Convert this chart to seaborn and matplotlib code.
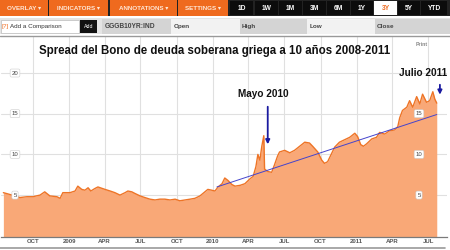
import matplotlib
matplotlib.use("Agg")
import matplotlib.pyplot as plt
import matplotlib.dates as mdates
import matplotlib.transforms as mtrans
from matplotlib.patches import Rectangle
import seaborn as sns
import pandas as pd

# ---------------- data ----------------
dates = ["2008-07-18", "2008-08-09", "2008-08-29", "2008-09-16", "2008-10-01", "2008-10-19",
         "2008-10-31", "2008-11-13", "2008-12-01", "2008-12-09", "2008-12-16", "2009-01-03",
         "2009-01-16", "2009-01-23", "2009-02-02", "2009-02-10", "2009-02-18", "2009-02-25",
         "2009-03-07", "2009-03-15", "2009-04-02", "2009-04-15", "2009-04-27", "2009-05-10",
         "2009-05-23", "2009-05-30", "2009-06-09", "2009-06-17", "2009-06-30", "2009-07-12",
         "2009-07-25", "2009-08-07", "2009-08-19", "2009-09-01", "2009-09-14", "2009-09-27",
         "2009-10-09", "2009-10-22", "2009-11-04", "2009-11-16", "2009-11-29", "2009-12-09",
         "2009-12-19", "2009-12-29", "2010-01-06", "2010-01-14", "2010-01-24", "2010-01-31",
         "2010-02-08", "2010-02-18", "2010-02-26", "2010-03-11", "2010-03-23", "2010-04-05",
         "2010-04-13", "2010-04-20", "2010-04-25", "2010-04-30", "2010-05-05", "2010-05-10",
         "2010-05-12", "2010-05-20", "2010-05-30", "2010-06-06", "2010-06-14", "2010-06-19",
         "2010-07-02", "2010-07-15", "2010-07-27", "2010-08-09", "2010-08-22", "2010-09-03",
         "2010-09-11", "2010-09-24", "2010-10-04", "2010-10-11", "2010-10-19", "2010-10-27",
         "2010-11-06", "2010-11-18", "2010-12-01", "2010-12-14", "2010-12-27", "2011-01-03",
         "2011-01-11", "2011-01-18", "2011-01-26", "2011-02-08", "2011-02-20", "2011-02-28",
         "2011-03-13", "2011-03-25", "2011-04-07", "2011-04-15", "2011-04-20", "2011-04-27",
         "2011-05-08", "2011-05-15", "2011-05-23", "2011-06-02", "2011-06-10", "2011-06-17",
         "2011-06-27", "2011-07-05", "2011-07-13", "2011-07-18", "2011-07-23"]
values = [5.3, 5.0, 4.7, 4.8, 4.8, 5.0,
          5.4, 4.9, 4.8, 4.6, 5.3, 5.3,
          5.5, 6.1, 5.7, 5.6, 5.9, 5.5,
          5.8, 6.0, 5.7, 5.5, 5.3, 5.0,
          5.3, 5.5, 5.4, 5.2, 4.9, 4.7,
          4.5, 4.4, 4.5, 4.5, 4.4, 4.5,
          4.3, 4.4, 4.5, 4.6, 4.9, 5.3,
          5.7, 5.6, 5.5, 6.0, 6.4, 7.1,
          6.8, 6.3, 6.1, 6.2, 6.4, 7.0,
          7.3, 8.5, 10.0, 9.3, 11.0, 12.3,
          8.2, 7.9, 7.8, 8.7, 9.8, 10.3,
          10.5, 10.2, 10.5, 11.0, 11.5, 11.4,
          11.0, 10.3, 9.3, 8.9, 9.1, 9.9,
          10.9, 11.5, 11.8, 12.1, 12.6, 12.2,
          11.2, 11.0, 11.3, 11.9, 12.1, 12.7,
          12.5, 12.9, 13.0, 13.4, 14.5, 15.4,
          15.8, 16.6, 15.8, 17.1, 16.2, 17.4,
          16.4, 16.6, 17.7, 16.8, 16.3]

trend_dates = ["2010-01-11", "2011-07-23"]
trend_values = [6.0, 14.9]

tick_dates = ["2008-10-01", "2009-01-01", "2009-04-01", "2009-07-01", "2009-10-01", "2010-01-01",
              "2010-04-01", "2010-07-01", "2010-10-01", "2011-01-01", "2011-04-01", "2011-07-01"]
tick_labels = ["OCT", "2009", "APR", "JUL", "OCT", "2010", "APR", "JUL", "OCT", "2011", "APR", "JUL"]
ytick_left = [5, 10, 15, 20]
ytick_right = [5, 10, 15]

title = "Spread del Bono de deuda soberana griega a 10 años 2008-2011"

df = pd.DataFrame({"date": pd.to_datetime(dates), "value": values})
tr = pd.DataFrame({"date": pd.to_datetime(trend_dates), "value": trend_values})

# ---------------- style ----------------
sns.set_theme(style="white")
plt.rcParams["font.family"] = ["Liberation Sans", "DejaVu Sans"]

W, H = 450, 250
fig = plt.figure(figsize=(4.5, 2.5), dpi=100)
fig.patch.set_facecolor("white")

def fx(px):
    return px / W

def fy(py):
    return 1 - py / H

ax = fig.add_axes([fx(1), fy(237), fx(446), (237 - 36) / H])
ax.set_facecolor("white")

FILL = "#f9a877"
LINE = "#ee7426"

ax.fill_between(df["date"], df["value"], -1, color=FILL, lw=0, zorder=2)
sns.lineplot(data=df, x="date", y="value", ax=ax, color=LINE, lw=1.0, zorder=3)
sns.lineplot(data=tr, x="date", y="value", ax=ax, color="#4444cc", lw=0.7, zorder=4)

ax.set_xlim(pd.Timestamp("2008-07-12"), pd.Timestamp("2011-08-18"))
ax.set_ylim(-0.15, 24.55)
ax.set_xticks(pd.to_datetime(tick_dates))
ax.set_xticklabels(tick_labels)
ax.set_yticks(ytick_left)
ax.tick_params(axis="y", labelleft=False, length=0)
ax.tick_params(axis="x", length=0, pad=1.5, labelsize=4.3, labelcolor="#555555")
for t in ax.get_xticklabels():
    t.set_fontweight("bold")
ax.set_xlabel("")
ax.set_ylabel("")
ax.grid(True, color="#e0e0e0", lw=0.8, zorder=0)
ax.set_axisbelow(True)
for s in ["top", "right", "left"]:
    ax.spines[s].set_visible(False)
ax.spines["bottom"].set_color("#7a7a7a")
ax.spines["bottom"].set_linewidth(0.9)
ax.spines["bottom"].set_zorder(6)

box = dict(boxstyle="round,pad=0.25", fc="white", ec="#cccccc", lw=0.4)
bl = mtrans.blended_transform_factory(ax.transAxes, ax.transData)
for v in ytick_left:
    ax.text((15 - 1) / 446, v, str(v), transform=bl, ha="center", va="center",
            fontsize=4.3, color="#444444", bbox=box, zorder=7)
for v in ytick_right:
    ax.text((419 - 1) / 446, v, str(v), transform=bl, ha="center", va="center",
            fontsize=4.3, color="#444444", bbox=box, zorder=7)

# annotations
ax.annotate("", xy=(pd.Timestamp("2010-05-20"), 10.9), xytext=(pd.Timestamp("2010-05-20"), 16.2),
            arrowprops=dict(arrowstyle="-|>", color="#1a1aa0", lw=1.3, mutation_scale=6), zorder=8)
ax.text(pd.Timestamp("2010-05-10"), 17.4, "Mayo 2010", ha="center", va="center",
        fontsize=7.2, fontweight="bold", color="#111111", zorder=8)
ax.annotate("", xy=(pd.Timestamp("2011-07-31"), 17.0), xytext=(pd.Timestamp("2011-07-31"), 18.9),
            arrowprops=dict(arrowstyle="-|>", color="#1a1aa0", lw=1.3, mutation_scale=6), zorder=8)
ax.text(pd.Timestamp("2011-06-17"), 20.0, "Julio 2011", ha="center", va="center",
        fontsize=7.2, fontweight="bold", color="#111111", zorder=8)

fig.text(fx(215), fy(51), title, ha="center", va="center", fontsize=8.3,
         fontweight="bold", color="#111111")
fig.text(fx(422), fy(45), "Print", ha="center", va="center", fontsize=3.8,
         fontweight="bold", color="#888888")

# ---------------- toolbar ----------------
tb = fig.add_axes([0, 0, 1, 1], zorder=10)
tb.set_xlim(0, W)
tb.set_ylim(H, 0)
tb.axis("off")
tb.patch.set_alpha(0)

ORANGE = "#ef6a1e"
tb.add_patch(Rectangle((0, 0), W, 15.5, fc="#222222", ec="none"))
menus = [("OVERLAY ▾", 0, 48), ("INDICATORS ▾", 49, 108), ("ANNOTATIONS ▾", 110, 177),
         ("SETTINGS ▾", 178, 228)]
for lab, a, b in menus:
    tb.add_patch(Rectangle((a, 0), b - a, 15.5, fc=ORANGE, ec="none"))
    tb.text((a + b) / 2, 8, lab, ha="center", va="center", fontsize=4.5,
            fontweight="bold", color="#ffe8d8")
periods = [("1D", 230, 253), ("1W", 255, 278), ("1M", 279, 302), ("3M", 303, 326),
           ("6M", 327, 350), ("1Y", 351, 373), ("3Y", 374, 397), ("5Y", 398, 420),
           ("YTD", 421, 447)]
for lab, a, b in periods:
    active = lab == "3Y"
    tb.add_patch(Rectangle((a, 0.5), b - a, 14.5, fc="white" if active else "#0c0c0c", ec="none"))
    tb.text((a + b) / 2, 8, lab, ha="center", va="center", fontsize=4.8, fontweight="bold",
            color=ORANGE if active else "white")

tb.add_patch(Rectangle((0, 18), W, 16, fc="#e4e4e4", ec="none"))
tb.add_patch(Rectangle((0.5, 19.5), 78, 13, fc="white", ec="#bbbbbb", lw=0.5))
tb.text(2, 26.2, "[?]", ha="left", va="center", fontsize=4.5, color=ORANGE)
tb.text(10, 26.2, "Add a Comparison", ha="left", va="center", fontsize=4.5, color="#333333")
tb.add_patch(Rectangle((80, 19.5), 17, 13, fc="#111111", ec="none"))
tb.text(88.5, 26.2, "Add", ha="center", va="center", fontsize=3.8, color="white")
tb.add_patch(Rectangle((102, 18.5), 69, 15, fc="#d4d4d4", ec="none"))
tb.text(105, 26.2, "GGGB10YR:IND", ha="left", va="center", fontsize=4.8,
        fontweight="bold", color="#444444")
tb.add_patch(Rectangle((171, 18.5), 69, 15, fc="#f2f2f2", ec="none"))
tb.text(174, 26.2, "Open", ha="left", va="center", fontsize=4.6, fontweight="bold", color="#444444")
tb.add_patch(Rectangle((240, 18.5), 67, 15, fc="#d4d4d4", ec="none"))
tb.text(242, 26.2, "High", ha="left", va="center", fontsize=4.6, fontweight="bold", color="#444444")
tb.add_patch(Rectangle((307, 18.5), 68, 15, fc="#f2f2f2", ec="none"))
tb.text(310, 26.2, "Low", ha="left", va="center", fontsize=4.6, fontweight="bold", color="#444444")
tb.add_patch(Rectangle((375, 18.5), 75, 15, fc="#d4d4d4", ec="none"))
tb.text(377, 26.2, "Close", ha="left", va="center", fontsize=4.6, fontweight="bold", color="#444444")

tb.plot([0, W], [35.5, 35.5], color="#999999", lw=1.0)
tb.plot([0, 445], [248, 248], color="#9a9a9a", lw=1.2)

fig.savefig("out.png", dpi=100, facecolor="white")
